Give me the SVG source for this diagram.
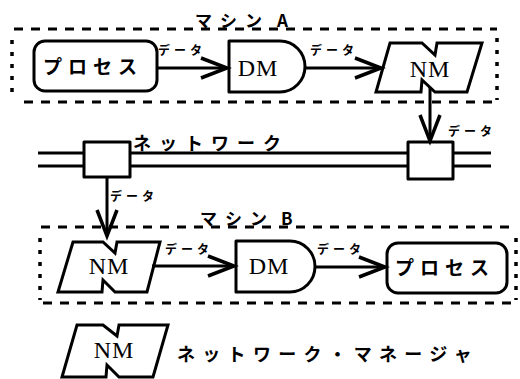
<svg xmlns="http://www.w3.org/2000/svg" width="520" height="379" viewBox="0 0 520 379">
  <style>
    .box { fill: #fff; stroke: #000; stroke-width: 3; stroke-linejoin: round; }
    .nm { fill: #fff; stroke: #000; stroke-width: 3; stroke-linejoin: miter; }
    .edge { fill: none; stroke: #000; stroke-width: 3; }
    .net { fill: none; stroke: #000; stroke-width: 3; }
    .hdash { fill: none; stroke: #000; stroke-width: 3.2; stroke-dasharray: 9 8; }
    .vdot { fill: none; stroke: #000; stroke-width: 3.5; stroke-dasharray: 4 8; }
    .jp { font-family: "Noto Sans CJK JP", "Noto Sans", sans-serif; font-weight: bold; fill: #000; }
    .title { font-size: 17px; letter-spacing: 8px; }
    .proc { font-size: 19px; letter-spacing: 6px; }
    .lbl { font-size: 12px; letter-spacing: 4px; }
    .lat { font-family: "Liberation Serif", "Times New Roman", serif; font-size: 24px; letter-spacing: 1px; fill: #000; text-anchor: middle; }
  </style>
  <defs>
    <marker id="arrow" markerUnits="userSpaceOnUse" markerWidth="40" markerHeight="30" viewBox="-30 -15 40 30" refX="0" refY="0" orient="auto">
      <path d="M-26,-10 L0,0 L-26,10" fill="none" stroke="#000" stroke-width="3.5" stroke-linejoin="miter"/>
    </marker>
  </defs>

  <!-- machine A frame -->
  <g id="machineA">
    <line class="hdash" x1="14" y1="29" x2="497" y2="29"/>
    <line class="hdash" x1="24" y1="102" x2="497" y2="102"/>
    <line class="vdot" x1="12" y1="40" x2="12" y2="100"/>
    <line class="vdot" x1="497" y1="38" x2="497" y2="100"/>
    <text class="jp title" x="195" y="27">マシン<tspan x="277">A</tspan></text>
  </g>

  <!-- machine B frame -->
  <g id="machineB">
    <line class="hdash" x1="41" y1="227" x2="516" y2="227"/>
    <line class="hdash" x1="43" y1="303" x2="516" y2="303"/>
    <line class="vdot" x1="40" y1="238" x2="40" y2="300"/>
    <line class="vdot" x1="516" y1="238" x2="516" y2="300"/>
    <text class="jp title" x="200" y="225">マシン<tspan x="281">B</tspan></text>
  </g>

  <!-- network bus -->
  <g id="network">
    <line class="net" x1="38" y1="153" x2="491" y2="153"/>
    <line class="net" x1="38" y1="166" x2="491" y2="166"/>
    <text class="jp" x="133" y="150" font-size="18" letter-spacing="8">ネットワーク</text>
  </g>
  <g id="tapLeft">
    <rect class="box" x="84" y="142" width="46" height="35" stroke-linejoin="miter"/>
  </g>
  <g id="tapRight">
    <rect class="box" x="408" y="142" width="45" height="37" stroke-linejoin="miter"/>
  </g>

  <!-- machine A nodes -->
  <g id="processA">
    <rect class="box" x="34" y="41" width="123" height="50" rx="11"/>
    <text class="jp proc" x="43" y="74">プロセス</text>
  </g>
  <g id="dmA">
    <path class="box" d="M229,41 H280 A25,25.5 0 0 1 280,92 H229 Z"/>
    <text class="lat" x="258" y="76">DM</text>
  </g>
  <g id="nmA">
    <path class="nm" d="M390,43 L422,43 L435,55 L437,43 L482,43 L467,92 L435,92 L422,80 L421,92 L376,92 Z"/>
    <text class="lat" x="430" y="77">NM</text>
  </g>

  <!-- machine B nodes -->
  <g id="nmB">
    <path class="nm" d="M73,242 L103,242 L115,253 L117,242 L160,242 L147,292 L115,292 L103,280 L102,292 L58,292 Z"/>
    <text class="lat" x="109" y="274">NM</text>
  </g>
  <g id="dmB">
    <path class="box" d="M236,241 H290 A25,25.5 0 0 1 290,292 H236 Z"/>
    <text class="lat" x="269" y="274">DM</text>
  </g>
  <g id="processB">
    <rect class="box" x="387" y="243" width="120" height="50" rx="11"/>
    <text class="jp proc" x="395" y="275">プロセス</text>
  </g>

  <!-- legend -->
  <g id="legend">
    <path class="nm" d="M77,325 L103,325 L117,336 L119,325 L168,325 L153,377 L119,377 L107,365 L106,377 L62,377 Z"/>
    <text class="lat" x="114" y="358">NM</text>
    <text class="jp" x="177" y="361" font-size="18" letter-spacing="7.3">ネットワーク・マネージャ</text>
  </g>

  <!-- connectors -->
  <g id="connectors">
    <line class="edge" x1="157" y1="68" x2="227" y2="68" marker-end="url(#arrow)"/>
    <text class="jp lbl" x="158" y="55">データ</text>
    <line class="edge" x1="305" y1="68" x2="381" y2="68" marker-end="url(#arrow)"/>
    <text class="jp lbl" x="310" y="55">データ</text>
    <line class="edge" x1="430" y1="87" x2="430" y2="141" marker-end="url(#arrow)"/>
    <text class="jp lbl" x="448" y="136">データ</text>
    <line class="edge" x1="107" y1="177" x2="107" y2="236" marker-end="url(#arrow)"/>
    <text class="jp lbl" x="110" y="201">データ</text>
    <line class="edge" x1="152" y1="266" x2="234" y2="266" marker-end="url(#arrow)"/>
    <text class="jp lbl" x="165" y="254">データ</text>
    <line class="edge" x1="315" y1="267" x2="385" y2="267" marker-end="url(#arrow)"/>
    <text class="jp lbl" x="317" y="254">データ</text>
  </g>
</svg>
